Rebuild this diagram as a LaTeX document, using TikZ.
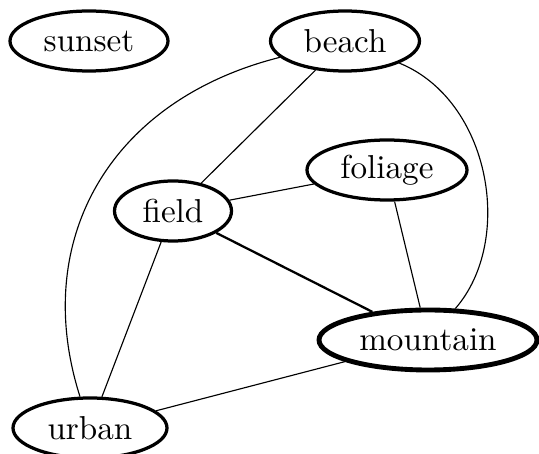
\documentclass[tikz,border=0pt]{standalone}
\usetikzlibrary{shapes.geometric}
\begin{document}
\begin{tikzpicture}[x=0.3077pt,y=-0.3077pt,
  vertex/.style={ellipse,draw,line width=1pt,inner sep=0pt,
    minimum height=60*0.3077pt,font=\fontsize{10.2}{12}\selectfont},
  link/.style={line width=0.35pt},
  strong/.style={line width=0.7pt}]
\useasboundingbox (0,0) rectangle (539,454);
\node[vertex,minimum width=158*0.3077pt] (sunset) at (89,41) {sunset};
\node[vertex,minimum width=149*0.3077pt] (beach) at (345,41) {beach};
\node[vertex,minimum width=160*0.3077pt] (foliage) at (387,170) {foliage};
\node[vertex,minimum width=117*0.3077pt] (field) at (173,211) {field};
\node[vertex,minimum width=218*0.3077pt,line width=1.5pt] (mountain) at (428,340) {mountain};
\node[vertex,minimum width=154*0.3077pt] (urban) at (90,428) {urban};
\draw[link] (beach) -- (field);
\draw[link] (beach) .. controls (110,100) and (30,240) .. (urban);
\draw[link] (beach) .. controls (490,100) and (515,240) .. (mountain);
\draw[link] (field) -- (foliage);
\draw[strong] (field) -- (mountain);
\draw[link] (field) -- (urban);
\draw[link] (foliage) -- (mountain);
\draw[link] (mountain) -- (urban);
\end{tikzpicture}
\end{document}
